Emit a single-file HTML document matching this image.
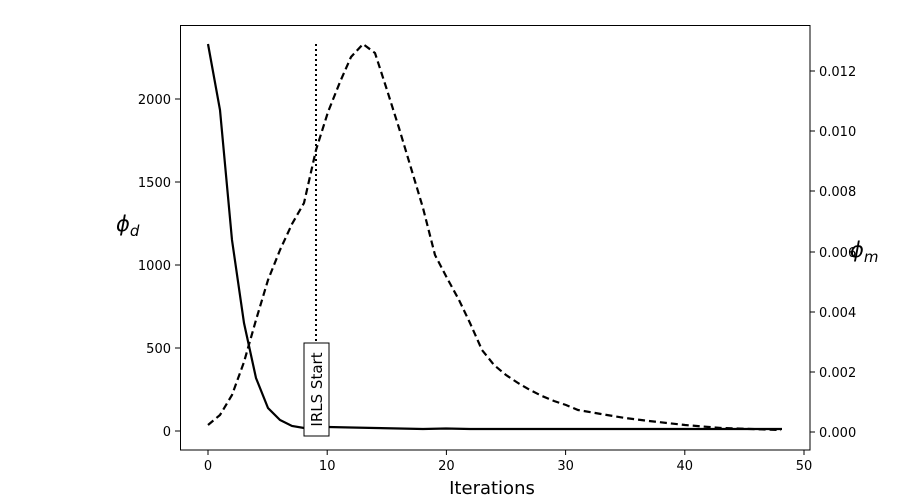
<!DOCTYPE html>
<html><head><style>body{margin:0;background:#fff}svg{display:block}text{font-family:"DejaVu Sans","Liberation Sans",sans-serif;fill:#000}</style></head><body>
<svg width="900" height="500" xmlns="http://www.w3.org/2000/svg">
<rect x="180.5" y="25.5" width="629.5" height="424.5" fill="none" stroke="#000" stroke-width="1"/>
<g stroke="#000" stroke-width="1">
<line x1="208" y1="450" x2="208" y2="455"/><line x1="327.2" y1="450" x2="327.2" y2="455"/><line x1="446.4" y1="450" x2="446.4" y2="455"/><line x1="565.6" y1="450" x2="565.6" y2="455"/><line x1="684.8" y1="450" x2="684.8" y2="455"/><line x1="804" y1="450" x2="804" y2="455"/>
<line x1="175" y1="431" x2="180" y2="431"/><line x1="175" y1="348" x2="180" y2="348"/><line x1="175" y1="265" x2="180" y2="265"/><line x1="175" y1="182" x2="180" y2="182"/><line x1="175" y1="99" x2="180" y2="99"/>
<line x1="810" y1="432" x2="815" y2="432"/><line x1="810" y1="372" x2="815" y2="372"/><line x1="810" y1="312" x2="815" y2="312"/><line x1="810" y1="252" x2="815" y2="252"/><line x1="810" y1="191" x2="815" y2="191"/><line x1="810" y1="131" x2="815" y2="131"/><line x1="810" y1="71" x2="815" y2="71"/>
</g>
<g font-size="13" text-anchor="middle">
<text x="208" y="470">0</text><text x="327.2" y="470">10</text><text x="446.4" y="470">20</text><text x="565.6" y="470">30</text><text x="684.8" y="470">40</text><text x="804" y="470">50</text>
</g>
<g font-size="13" text-anchor="end">
<text x="171" y="436">0</text><text x="171" y="353">500</text><text x="171" y="270">1000</text><text x="171" y="187">1500</text><text x="171" y="104">2000</text>
</g>
<g font-size="13">
<text x="819" y="437">0.000</text><text x="819" y="377">0.002</text><text x="819" y="317">0.004</text><text x="819" y="257">0.006</text><text x="819" y="196">0.008</text><text x="819" y="136">0.010</text><text x="819" y="76">0.012</text>
</g>
<text x="492" y="494" font-size="18" text-anchor="middle">Iterations</text>
<text x="116" y="231" font-size="21" font-style="italic">ϕ<tspan font-size="15" dy="5">d</tspan></text>
<text x="850" y="257" font-size="21" font-style="italic">ϕ<tspan font-size="15" dy="5">m</tspan></text>
<line x1="316" y1="44" x2="316" y2="431" stroke="#000" stroke-width="2" stroke-dasharray="2,3"/>
<polyline fill="none" stroke="#000" stroke-width="2.2" points="208,44 220,110 232,240 244,323 256,378 268,408 280,420 292,426 304,428 316,427 328,427 351,427.5 375,428 399,428.5 423,429 446,428.5 470,429 494,429 518,429 542,429 566,429 590,429 614,429 638,429 662,429 686,429 710,429 734,429 758,429 782,429"/>
<polyline fill="none" stroke="#000" stroke-width="2.2" stroke-dasharray="7,4" points="208,425 220,415 232,395 244,362 256,320 268,280 280,250 292,224 304,203 316,150 328,112 340,82 351,57 363,44 375,53 387,90 399,128 411,168 423,208 435,255 447,278 459,300 470,323 482,350 494,365 506,375 518,383 530,390 542,396 554,401 566,405 578,410 601,414 625,418 649,421 685,425 721,428 781,430"/>
<rect x="304" y="343" width="25" height="93" fill="#fff" stroke="#000" stroke-width="1"/>
<text transform="translate(322,389.5) rotate(-90)" font-size="15" text-anchor="middle">IRLS Start</text>
</svg>
</body></html>
